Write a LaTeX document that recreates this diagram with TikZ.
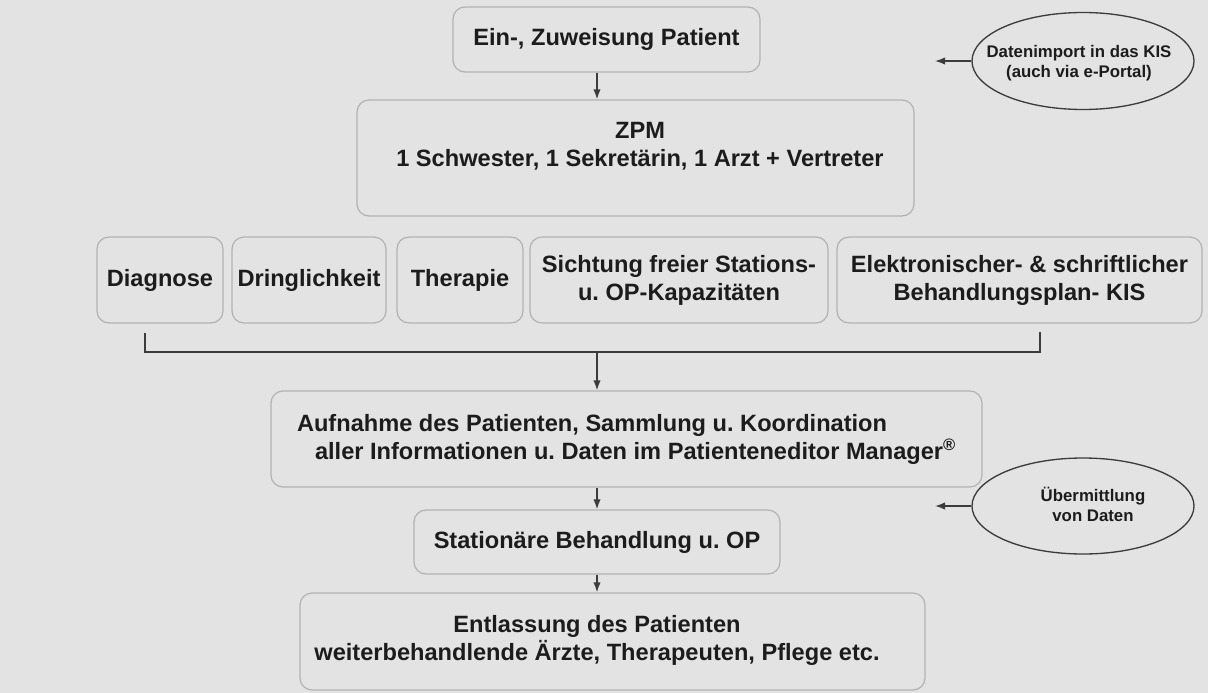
\documentclass[tikz,border=0pt]{standalone}
\usepackage{fontspec}
\setmainfont{Liberation Sans}
\usetikzlibrary{arrows.meta,shapes.geometric}
\definecolor{bgc}{HTML}{E3E3E3}
\definecolor{boxline}{HTML}{B2B2B2}
\definecolor{linec}{HTML}{3C3C3C}
\definecolor{txtc}{HTML}{1C1C1C}
\frenchspacing
\begin{document}
\begin{tikzpicture}[x=0.75pt,y=-0.75pt,
  sz/.style 2 args={minimum width=#1*0.75pt, minimum height=#2*0.75pt},
  box/.style={draw=boxline, line width=0.9pt, fill=bgc, rounded corners=9pt, inner sep=0pt,
    text=txtc, font=\fontsize{17.7pt}{21pt}\selectfont\bfseries, align=center},
  txt/.style={inner sep=0pt, text=txtc, font=\fontsize{17.7pt}{21pt}\selectfont\bfseries, align=center},
  ell/.style={draw=linec, line width=1pt, ellipse, inner sep=0pt},
  etxt/.style={inner sep=0pt, text=txtc, font=\fontsize{12.6pt}{15pt}\selectfont\bfseries, align=center},
  arr/.style={draw=linec, line width=1.1pt, -{Latex[length=7.5pt,width=5.5pt]}},
  brk/.style={draw=linec, line width=1.2pt}
]
\fill[bgc] (0,0) rectangle (1208,693);
\useasboundingbox (0,0) rectangle (1208,693);

% main boxes
\node[box, sz={307}{65}] (top) at (606.5,39.5) {Ein-, Zuweisung Patient};
\node[box, sz={557}{116}] (zpm) at (635.5,158) {};
\node[txt] (zpmT) at (640,146) {ZPM\\1 Schwester, 1 Sekretärin, 1 Arzt + Vertreter};

\node[box, sz={126}{86}] (diag) at (160,280) {Diagnose};
\node[box, sz={154}{86}] (dring) at (309,280) {Dringlichkeit};
\node[box, sz={126}{86}] (ther) at (460,280) {Therapie};
\node[box, sz={298}{86}] (sicht) at (679,280) {Sichtung freier Stations-\\u. OP-Kapazitäten};
\node[box, sz={365}{86}] (elek) at (1019.5,280) {Elektronischer- \& schriftlicher\\Behandlungsplan- KIS};

\node[box, sz={711}{96}, align=left] (aufn) at (626.5,439)
  {Aufnahme des Patienten, Sammlung u. Koordination\\\hspace*{13.5pt}aller Informationen u. Daten im Patienteneditor Manager\textsuperscript{®}};
\node[box, sz={366}{64}] (stat) at (597,542) {Stationäre Behandlung u. OP};
\node[box, sz={625}{97}] (entl) at (612.5,641.5) {};
\node[txt] (entlT) at (597,640) {Entlassung des Patienten\\weiterbehandlende Ärzte, Therapeuten, Pflege etc.};

% ellipses
\node[ell, sz={222}{97}] (e1) at (1083,61) {};
\node[etxt] (e1T) at (1079,63) {Datenimport in das KIS\\(auch via e-Portal)};
\node[ell, sz={222}{96}] (e2) at (1083,506) {};
\node[etxt] (e2T) at (1093,504) {Übermittlung\\von Daten};
\coordinate (e1tip) at (935,61);
\coordinate (e2tip) at (935,506);
\draw[arr] (e1) -- (e1tip);
\draw[arr] (e2) -- (e2tip);

% bracket
\coordinate (bl) at (145,333);
\coordinate (br) at (1040,332);
\coordinate (bm) at (597,352);
\draw[brk] (bl) -- (bl |- bm) -- (br |- bm) -- (br);

% arrows
\draw[arr] (top.south -| bm) -- (zpm.north -| bm);
\draw[arr] (bm) -- (aufn.north -| bm);
\draw[arr] (aufn.south -| stat) -- (stat.north);
\draw[arr] (stat.south) -- (entl.north -| stat);
\end{tikzpicture}
\end{document}
